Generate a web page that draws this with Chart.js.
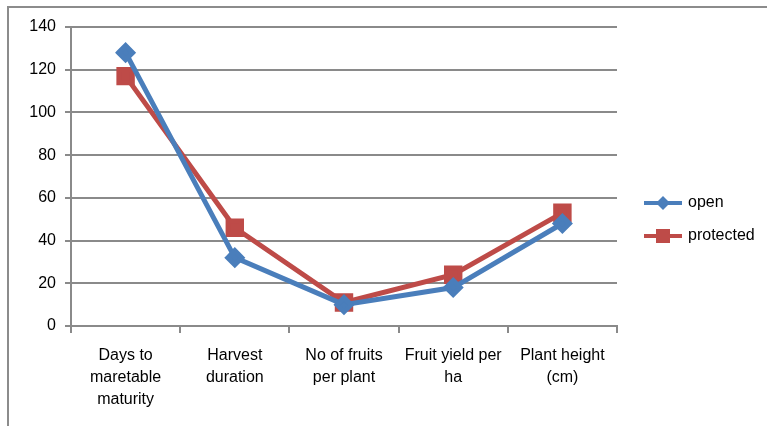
<!DOCTYPE html>
<html>
<head>
<meta charset="utf-8">
<script src="https://cdn.jsdelivr.net/npm/chart.js@4.4.0/dist/chart.umd.min.js"></script>
<style>
  html, body { margin: 0; padding: 0; background: #fff; }
  #wrap { width: 767px; height: 426px; }
</style>
</head>
<body>
<div id="wrap"><canvas id="c" width="767" height="426"></canvas></div>
<script>
const categories = [
    ["Days to", "maretable", "maturity"],
    ["Harvest", "duration"],
    ["No of fruits", "per plant"],
    ["Fruit yield per", "ha"],
    ["Plant height", "(cm)"]
];
const openValues = [128, 32, 10, 18, 48];
const protectedValues = [117, 46, 11, 24, 53];
const yTicks = [0, 20, 40, 60, 80, 100, 120, 140];

const BLUE = "#4a7ebb";
const RED = "#be4b48";
const GRID = "#8a8a8a";
const FONT = "'Liberation Sans', Arial, sans-serif";

// small line + marker picture for the legend
function legendIcon(color, shape) {
    let cv = document.createElement('canvas');
    cv.width = 38;
    cv.height = 16;
    let ctx = cv.getContext('2d');
    ctx.strokeStyle = color;
    ctx.lineWidth = 4;
    ctx.beginPath();
    ctx.moveTo(0, 8);
    ctx.lineTo(38, 8);
    ctx.stroke();
    ctx.fillStyle = color;
    if (shape == 'rect') {
        ctx.fillRect(12, 1, 14, 14);
    } else {
        ctx.beginPath();
        ctx.moveTo(19, 1);
        ctx.lineTo(26, 8);
        ctx.lineTo(19, 15);
        ctx.lineTo(12, 8);
        ctx.closePath();
        ctx.fill();
    }
    return cv;
}

const frame = {
    id: 'frame',
    beforeDraw: function(chart) {
        let ctx = chart.ctx;
        ctx.save();
        ctx.strokeStyle = "#8c8c8c";
        ctx.lineWidth = 2;
        ctx.beginPath();
        ctx.moveTo(8, 426);
        ctx.lineTo(8, 7);
        ctx.lineTo(767, 7);
        ctx.stroke();
        ctx.restore();
    }
};

// fixed legend width so the plot ends where the reference does
const legendBox = {
    id: 'legendBox',
    beforeUpdate: function(chart) {
        let lg = chart.legend;
        if (lg && !lg._patched) {
            let fit = lg.fit;
            lg.fit = function() {
                fit.call(this);
                this.width = 150;
            };
            lg._patched = true;
        }
    },
    afterLayout: function(chart) {
        if (chart.legend) {
            chart.legend.top -= 14;
            chart.legend.left += 12;
        }
    }
};

new Chart(document.getElementById('c'), {
    type: 'line',
    data: {
        labels: categories,
        datasets: [
            {
                label: 'open',
                data: openValues,
                borderColor: BLUE,
                backgroundColor: BLUE,
                borderWidth: 5,
                pointStyle: 'rectRot',
                pointRadius: 7,
                pointHoverRadius: 7,
                tension: 0
            },
            {
                label: 'protected',
                data: protectedValues,
                borderColor: RED,
                backgroundColor: RED,
                borderWidth: 5,
                pointStyle: 'rect',
                pointRadius: 9.5,
                pointHoverRadius: 9.5,
                tension: 0
            }
        ]
    },
    options: {
        responsive: false,
        animation: false,
        layout: { padding: { top: 27, right: 0, left: 0, bottom: 0 } },
        plugins: {
            tooltip: { enabled: false },
            legend: {
                position: 'right',
                align: 'center',
                onClick: null,
                labels: {
                    usePointStyle: true,
                    pointStyleWidth: 34,
                    boxHeight: 16,
                    padding: 17,
                    color: '#000',
                    font: { family: FONT, size: 16 },
                    generateLabels: function(chart) {
                        return chart.data.datasets.map((ds, i) => ({
                            text: ds.label,
                            pointStyle: legendIcon(ds.borderColor, ds.pointStyle == 'rect' ? 'rect' : 'diamond'),
                            fillStyle: ds.borderColor,
                            strokeStyle: ds.borderColor,
                            lineWidth: 0,
                            hidden: false,
                            datasetIndex: i
                        }));
                    }
                }
            }
        },
        scales: {
            x: {
                offset: true,
                grid: {
                    offset: true,
                    drawOnChartArea: false,
                    drawTicks: true,
                    tickLength: 7,
                    color: GRID,
                    lineWidth: 2
                },
                border: { color: GRID, width: 2 },
                ticks: {
                    color: '#000',
                    maxRotation: 0,
                    autoSkip: false,
                    padding: 12,
                    font: { family: FONT, size: 16, lineHeight: 1.375 }
                },
                afterFit: function(scale) { scale.height = 100; }
            },
            y: {
                min: 0,
                max: 140,
                afterBuildTicks: function(scale) {
                    scale.ticks = yTicks.map(v => ({ value: v }));
                },
                grid: {
                    color: GRID,
                    lineWidth: 2,
                    drawTicks: true,
                    tickLength: 6
                },
                border: { color: GRID, width: 2 },
                ticks: {
                    color: '#000',
                    padding: 9,
                    font: { family: FONT, size: 16 }
                },
                afterFit: function(scale) { scale.width = 71; }
            }
        }
    },
    plugins: [frame, legendBox]
});
</script>
</body>
</html>
